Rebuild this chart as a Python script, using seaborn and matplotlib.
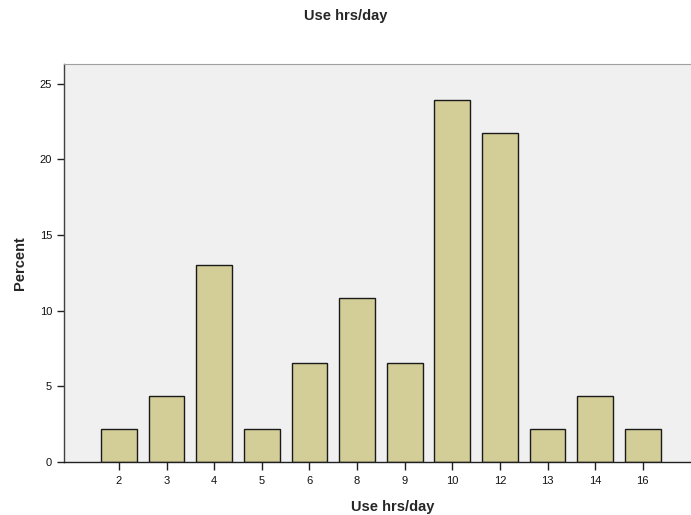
import numpy as np
import pandas as pd
import seaborn as sns
import matplotlib.pyplot as plt

# Data (percent of 46 respondents)
hours = ["2", "3", "4", "5", "6", "8", "9", "10", "12", "13", "14", "16"]
percent = [2.17, 4.35, 13.04, 2.17, 6.52, 10.87, 6.52, 23.91, 21.74, 2.17, 4.35, 2.17]


def main():
    sns.set_style("white")
    plt.rcParams["font.family"] = ["Liberation Sans", "DejaVu Sans"]

    df = pd.DataFrame({"hours": hours, "percent": percent})

    fig = plt.figure(figsize=(6.91, 5.15), dpi=100)
    ax = fig.add_axes([0.0926, 0.1029, 0.95, 0.7728])
    ax.set_facecolor("#F0F0F0")

    sns.barplot(data=df, x="hours", y="percent", order=hours,
                color="#D3CE97", edgecolor="#1a1a1a", linewidth=1.0,
                width=0.75, saturation=1, ax=ax)

    ax.set_xlim(-1.155, 12.63)
    ax.set_ylim(0, 26.3)
    ax.set_yticks([0, 5, 10, 15, 20, 25])

    ax.spines["right"].set_visible(False)
    ax.spines["top"].set_color("#A0A0A0")
    ax.spines["left"].set_color("#404040")
    ax.spines["bottom"].set_color("#202020")
    ax.spines["left"].set_linewidth(1.0)
    ax.spines["bottom"].set_linewidth(1.0)

    ax.tick_params(axis="both", direction="out", length=5, width=1,
                   color="#202020", labelsize=8, labelcolor="#111111",
                   left=True, bottom=True)
    ax.tick_params(axis="x", length=6, pad=4)

    ax.set_xlabel("Use hrs/day", fontsize=10.5, fontweight="bold", labelpad=10)
    ax.set_ylabel("Percent", fontsize=10.5, fontweight="bold", labelpad=9)
    fig.text(0.5, 0.968, "Use hrs/day", ha="center", va="center",
             fontsize=10.5, fontweight="bold")

    fig.savefig("out.png", dpi=100)


if __name__ == "__main__":
    main()
